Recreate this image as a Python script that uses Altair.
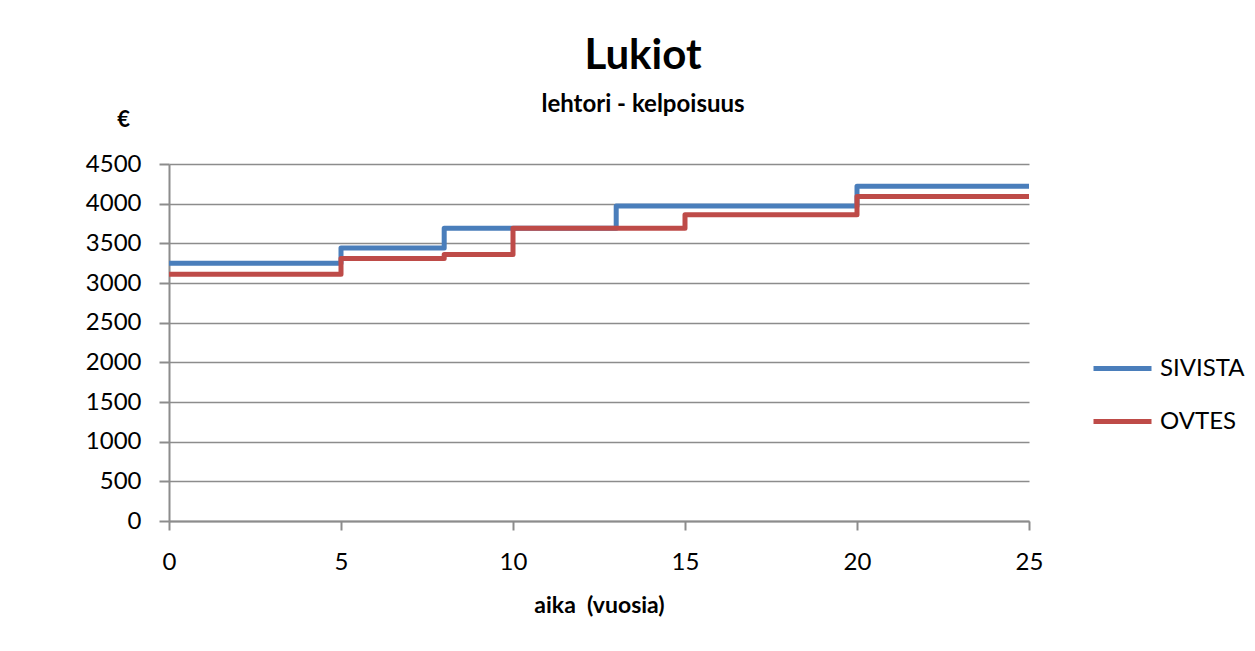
import altair as alt
import pandas as pd

years_sivista = [0, 5, 8, 13, 20, 25]
pay_sivista = [3250, 3440, 3690, 3970, 4220, 4220]
years_ovtes = [0, 5, 8, 10, 15, 20, 25]
pay_ovtes = [3110, 3310, 3360, 3690, 3860, 4090, 4090]
series = ["SIVISTA", "OVTES"]
colors = ["#4A7EBB", "#BE4B48"]
x_ticks = [0, 5, 10, 15, 20, 25]
y_ticks = list(range(0, 4501, 500))

df = pd.concat([
    pd.DataFrame({"aika": years_sivista, "palkka": pay_sivista, "sarja": series[0]}),
    pd.DataFrame({"aika": years_ovtes, "palkka": pay_ovtes, "sarja": series[1]}),
])

FONT = "Lato"
GRID = "#8C8C8C"

chart = alt.Chart(df).mark_line(
    interpolate="step-after", strokeWidth=5, strokeJoin="round", strokeCap="butt"
).encode(
    x=alt.X("aika:Q", scale=alt.Scale(domain=[0, 25], nice=False, zero=False),
            axis=alt.Axis(values=x_ticks, title="aika\u00a0 (vuosia)", grid=False,
                          format="d", labelFlush=False,
                          tickSize=9, labelPadding=20, labelFontSize=24,
                          titleFontSize=23, titleFontWeight="bold",
                          titleY=91, titleBaseline="alphabetic")),
    y=alt.Y("palkka:Q", scale=alt.Scale(domain=[0, 4500], nice=False),
            axis=alt.Axis(values=y_ticks, title="€", grid=True, format="d",
                          tickSize=10, labelPadding=18, labelFontSize=24,
                          titleFontSize=22, titleFontWeight="bold",
                          titleAngle=0, titleAlign="center", titleBaseline="alphabetic",
                          titleX=-46, titleY=-38)),
    color=alt.Color("sarja:N", sort=series,
                    scale=alt.Scale(domain=series, range=colors),
                    legend=alt.Legend(title=None, orient="none", legendX=922, legendY=178,
                                      symbolType="stroke", symbolSize=3364,
                                      symbolStrokeWidth=5, labelFontSize=24,
                                      labelOffset=6, clipHeight=53, rowPadding=0,
                                      padding=0)),
).properties(
    width=860,
    height=357,
    title=alt.TitleParams(text="Lukiot", subtitle="lehtori - kelpoisuus",
                          anchor="middle", frame="group", dx=44,
                          fontSize=42, fontWeight="bold", font=FONT,
                          subtitleFontSize=24, subtitleFontWeight="bold",
                          subtitleFont=FONT, subtitleColor="#000000",
                          subtitlePadding=15, offset=-10, color="#000000"),
    autosize=alt.AutoSizeParams(type="none"),
    padding={"left": 161, "top": 156, "right": 218, "bottom": 110},
    background="white",
).configure_axis(
    labelFont=FONT, titleFont=FONT, labelColor="#000000", titleColor="#000000",
    domainColor=GRID, tickColor=GRID, gridColor=GRID,
    domainWidth=2, tickWidth=2, gridWidth=1.5,
).configure_legend(
    labelFont=FONT, labelColor="#000000",
).configure_view(stroke=None)

chart.save("out.html", embed_options={"renderer": "svg", "actions": False})
